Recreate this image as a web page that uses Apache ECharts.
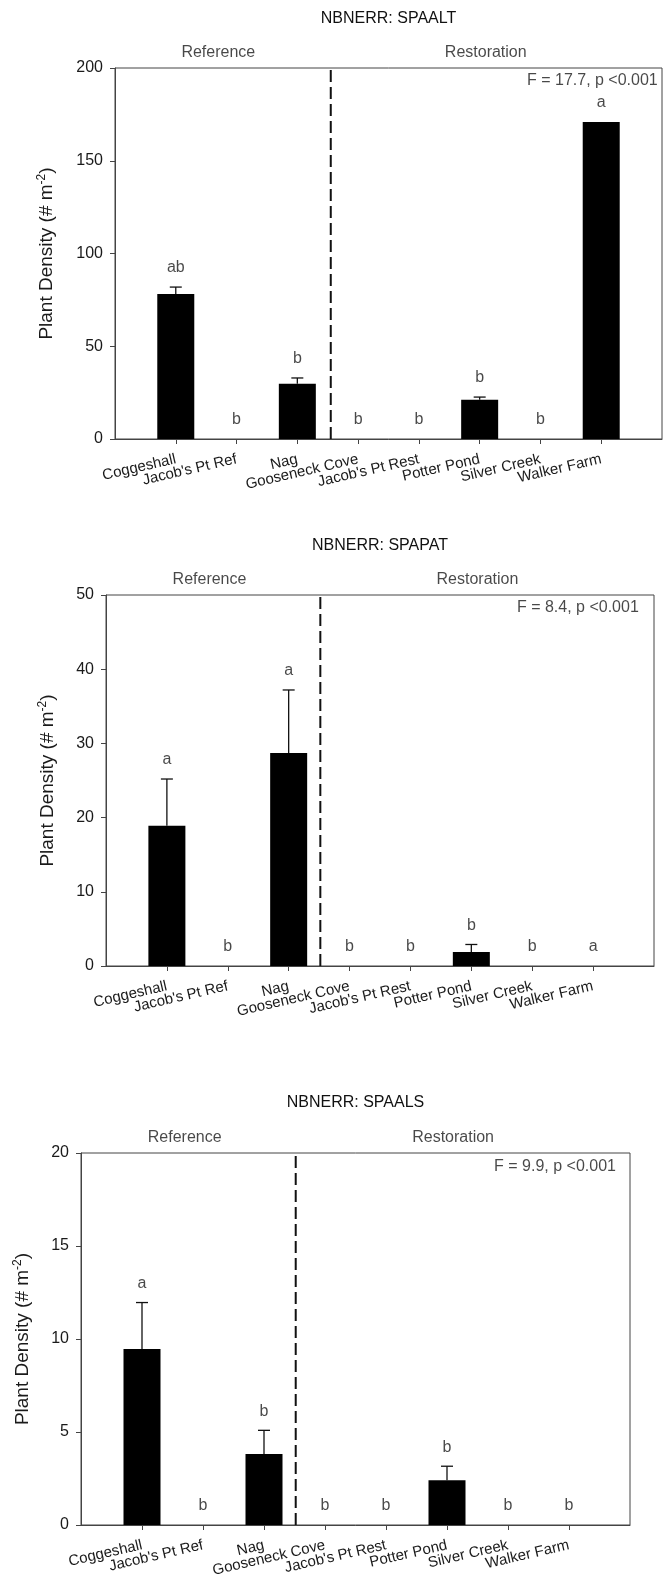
<!DOCTYPE html>
<html>
<head>
<meta charset="utf-8">
<title>NBNERR plant density</title>
<script src="https://cdn.jsdelivr.net/npm/echarts@6/dist/echarts.min.js"></script>
<style>
  html, body { margin: 0; padding: 0; background: #fff; }
  #chart { width: 663px; height: 1574px; }
</style>
</head>
<body>
<div id="chart"></div>
<script>
// Sites, in plotting order (3 reference marshes, then 5 restoration marshes)
const sites = ['Coggeshall', "Jacob's Pt Ref", 'Nag', 'Gooseneck Cove',
               "Jacob's Pt Rest", 'Potter Pond', 'Silver Creek', 'Walker Farm'];

// SPAALT – mean density, standard error, post-hoc letters
const spaaltMean    = [78.2, 0, 29.8, 0, 0, 21.2, 0, 170.9];
const spaaltSE      = [3.7, 0, 3.1, 0, 0, 1.4, 0, 0];
const spaaltLetters = ['ab', 'b', 'b', 'b', 'b', 'b', 'b', 'a'];

// SPAPAT
const spapatMean    = [18.9, 0, 28.7, 0, 0, 1.9, 0, 0];
const spapatSE      = [6.3, 0, 8.5, 0, 0, 1.0, 0, 0];
const spapatLetters = ['a', 'b', 'a', 'b', 'b', 'b', 'b', 'a'];

// SPAALS
const spaalsMean    = [9.46, 0, 3.82, 0, 0, 2.41, 0, 0];
const spaalsSE      = [2.5, 0, 1.27, 0, 0, 0.75, 0, 0];
const spaalsLetters = ['a', 'b', 'b', 'b', 'b', 'b', 'b', 'b'];

// Panel titles, ANOVA results and y scales
const panelTitles = ['NBNERR: SPAALT', 'NBNERR: SPAPAT', 'NBNERR: SPAALS'];
const anovaText   = ['F = 17.7, p <0.001', 'F = 8.4, p <0.001', 'F = 9.9, p <0.001'];
const yMaxima     = [200, 50, 20];
const yIntervals  = [50, 10, 5];
// where the ANOVA note sits, in axis units [x, y]
const anovaAt     = [[7.93, 193.3], [7.75, 48.3], [7.77, 19.27]];
// reference / restoration divider and group headings, in axis units
const dividerAt   = [2.55, 2.52, 2.52];
const groupNames  = ['Reference', 'Restoration'];
const groupCentre = [0.7, 5.1];

const panels = [
  { mean: spaaltMean, se: spaaltSE, letters: spaaltLetters },
  { mean: spapatMean, se: spapatSE, letters: spapatLetters },
  { mean: spaalsMean, se: spaalsSE, letters: spaalsLetters }
];

// Panel placement on the page (pixels)
const gridBoxes = [
  { left: 115, top: 68,   width: 547, height: 371 },
  { left: 106, top: 595,  width: 548, height: 371 },
  { left: 81,  top: 1153, width: 549, height: 372 }
];
const nameGaps = [57, 47, 47];

const FONT = '"Liberation Sans", Arial, Helvetica, sans-serif';
const INK = '#1a1a1a';
// label axis: one empty slot at each end so that slot j sits at value j - 1
const labelSlots = [''].concat(sites, ['']);
const isSite = idx => idx > 0 && idx < labelSlots.length - 1;

const chart = echarts.init(document.getElementById('chart'), null, { renderer: 'canvas' });

const grids = [], xAxes = [], yAxes = [], series = [], graphics = [];

panels.forEach((p, k) => {
  const g = gridBoxes[k];
  grids.push({
    left: g.left, top: g.top, width: g.width, height: g.height,
    containLabel: false, outerBoundsMode: 'none',
    show: true, borderColor: '#444', borderWidth: 1, backgroundColor: 'transparent'
  });

  // numeric x axis used to place the marks
  xAxes.push({
    gridIndex: k, type: 'value', min: -1, max: 8, position: 'bottom',
    axisLine: { show: true, onZero: false, lineStyle: { color: '#444', width: 1 } },
    axisTick: { show: false },
    axisLabel: { show: false },
    splitLine: { show: false }
  });
  // site-name axis drawn over the same span
  xAxes.push({
    gridIndex: k, type: 'category', data: labelSlots, boundaryGap: false,
    position: 'bottom', offset: 0,
    axisLine: { show: false },
    axisTick: { show: true, length: 5, interval: isSite, lineStyle: { color: '#444' } },
    axisLabel: {
      interval: 0, rotate: 13, margin: 20, fontSize: 15, color: INK, fontFamily: FONT
    },
    splitLine: { show: false }
  });

  yAxes.push({
    gridIndex: k, type: 'value', min: 0, max: yMaxima[k], interval: yIntervals[k],
    axisLine: { show: true, onZero: false, lineStyle: { color: '#444', width: 1 } },
    axisTick: { show: true, length: 5, lineStyle: { color: '#444' } },
    axisLabel: { fontSize: 16, color: INK, margin: 12, fontFamily: FONT },
    splitLine: { show: false },
    name: '{t|Plant Density (# m}{s|-2}{t|)}',
    nameLocation: 'middle', nameGap: nameGaps[k], nameRotate: 90,
    nameTextStyle: {
      fontFamily: FONT, color: INK,
      rich: {
        t: { fontSize: 19, fontFamily: FONT, color: INK },
        s: { fontSize: 12, fontFamily: FONT, color: INK, padding: [0, 0, 10, 0] }
      }
    }
  });

  const xi = 2 * k;

  // bars
  series.push({
    type: 'bar', xAxisIndex: xi, yAxisIndex: k,
    data: p.mean.map((m, i) => [i, m]),
    barWidth: 37,
    itemStyle: { color: '#000' },
    silent: true, z: 2
  });

  // upper standard-error whiskers
  series.push({
    type: 'custom', xAxisIndex: xi, yAxisIndex: k,
    data: p.mean.map((m, i) => [i, m, p.se[i]]),
    renderItem: (params, api) => {
      const se = api.value(2);
      if (!se) return null;
      const x = api.value(0), m = api.value(1);
      const a = api.coord([x, m]);
      const b = api.coord([x, m + se]);
      const st = { stroke: '#111', lineWidth: 1.3 };
      return {
        type: 'group',
        children: [
          { type: 'line', shape: { x1: a[0], y1: a[1], x2: b[0], y2: b[1] }, style: st },
          { type: 'line', shape: { x1: b[0] - 6, y1: b[1], x2: b[0] + 6, y2: b[1] }, style: st }
        ]
      };
    },
    silent: true, z: 3
  });

  // significance letters above each whisker
  series.push({
    type: 'scatter', xAxisIndex: xi, yAxisIndex: k,
    data: p.mean.map((m, i) => [i, m + p.se[i], p.letters[i]]),
    symbolSize: 0, clip: false, silent: true,
    label: {
      show: true, position: 'top', distance: 11,
      formatter: q => q.value[2],
      fontSize: 16, color: INK, fontFamily: FONT
    },
    z: 4
  });

  // dashed divider between reference and restoration sites
  series.push({
    type: 'line', xAxisIndex: xi, yAxisIndex: k,
    data: [[dividerAt[k], 0], [dividerAt[k], yMaxima[k]]],
    symbol: 'none', silent: true,
    lineStyle: { color: '#111', width: 2, type: [12, 5] },
    z: 3
  });

  // group headings above the frame
  series.push({
    type: 'scatter', xAxisIndex: xi, yAxisIndex: k,
    data: groupCentre.map((x, j) => [x, yMaxima[k], groupNames[j]]),
    symbolSize: 0, clip: false, silent: true,
    label: {
      show: true, position: 'top', distance: 7,
      formatter: q => q.value[2],
      fontSize: 16, color: INK, fontFamily: FONT
    }
  });

  // ANOVA note, right aligned
  series.push({
    type: 'scatter', xAxisIndex: xi, yAxisIndex: k,
    data: [[anovaAt[k][0], anovaAt[k][1], anovaText[k]]],
    symbolSize: 0, clip: false, silent: true,
    label: {
      show: true, position: 'left', distance: 0,
      formatter: q => q.value[2],
      fontSize: 16, color: INK, fontFamily: FONT
    }
  });

  // panel title, centred over the frame
  graphics.push({
    type: 'text',
    x: g.left + g.width / 2,
    y: g.top - [49, 49, 50][k],
    style: {
      text: panelTitles[k], fill: '#111',
      font: '16px ' + FONT, textAlign: 'center', textVerticalAlign: 'middle'
    }
  });
});

chart.setOption({
  animation: false,
  backgroundColor: '#fff',
  grid: grids,
  xAxis: xAxes,
  yAxis: yAxes,
  series: series,
  graphic: graphics
});
</script>
</body>
</html>
